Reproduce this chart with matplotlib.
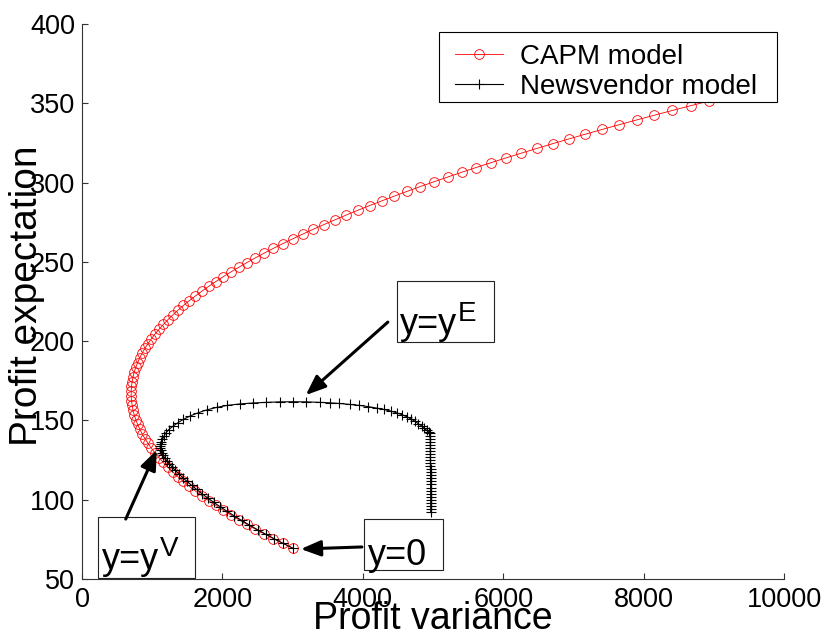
'''
Profit mean-variance frontier: CAPM vs newsvendor
'''
import matplotlib
matplotlib.use('Agg')
from matplotlib import pyplot as plt
from matplotlib.patches import Rectangle, FancyArrowPatch

plt.rcParams['font.family'] = ['Liberation Sans', 'DejaVu Sans']

## data
capm_mean = [69.5, 72.5, 75.5, 78.5, 81.5, 84.5, 87.5, 90.5, 93.5, 96.5,
             99.5, 102.5, 105.5, 108.5, 111.5, 114.5, 117.5, 120.5, 123.5, 126.5,
             129.5, 132.5, 135.5, 138.5, 141.5, 144.5, 147.5, 150.5, 153.5, 156.5,
             159.5, 162.5, 165.5, 168.5, 171.5, 174.5, 177.5, 180.5, 183.5, 186.5,
             189.5, 192.5, 195.5, 198.5, 201.5, 204.5, 207.5, 210.5, 213.5, 216.5,
             219.5, 222.5, 225.5, 228.5, 231.5, 234.5, 237.5, 240.5, 243.5, 246.5,
             249.5, 252.5, 255.5, 258.5, 261.5, 264.5, 267.5, 270.5, 273.5, 276.5,
             279.5, 282.5, 285.5, 288.5, 291.5, 294.5, 297.5, 300.5, 303.5, 306.5,
             309.5, 312.5, 315.5, 318.5, 321.5, 324.5, 327.5, 330.5, 333.5, 336.5,
             339.5, 342.5, 345.5, 348.5, 351.5]
capm_var = [3001, 2861, 2726, 2595, 2469, 2347, 2230, 2116, 2007, 1903,
            1803, 1707, 1615, 1528, 1445, 1367, 1293, 1223, 1158, 1097,
            1040, 988, 940, 897, 857, 823, 792, 766, 744, 727,
            714, 705, 701, 701, 705, 714, 727, 744, 766, 792,
            823, 857, 897, 940, 988, 1040, 1097, 1158, 1223, 1293,
            1367, 1445, 1528, 1615, 1707, 1803, 1903, 2007, 2116, 2230,
            2347, 2469, 2595, 2726, 2861, 3001, 3144, 3292, 3445, 3602,
            3763, 3928, 4098, 4272, 4451, 4634, 4821, 5013, 5209, 5409,
            5614, 5823, 6037, 6254, 6477, 6703, 6934, 7169, 7409, 7653,
            7901, 8154, 8411, 8672, 8938]

nv_var = [3000, 2869, 2742, 2619, 2500, 2385, 2275, 2168, 2065, 1970,
          1878, 1790, 1710, 1632, 1561, 1495, 1434, 1379, 1328, 1284,
          1244, 1209, 1178, 1154, 1135, 1123, 1116, 1114,
          1121, 1132, 1146, 1166, 1193, 1236, 1297, 1368, 1445, 1540,
          1653, 1775, 1916, 2070, 2250, 2437, 2628, 2818, 3007, 3198,
          3388, 3531, 3663, 3815, 3948, 4077, 4196, 4300, 4395, 4481,
          4552, 4623, 4685, 4742, 4789, 4837, 4870, 4909, 4937, 4956,
          4960, 4961, 4961, 4962, 4962, 4963, 4963, 4963, 4964, 4964,
          4964, 4965, 4965, 4965, 4965, 4966, 4966, 4966, 4966, 4967,
          4967, 4967, 4967, 4968, 4968, 4968]
nv_mean = [69.5, 72.4, 75.3, 78.2, 81.1, 84.0, 86.9, 89.8, 92.7, 95.5,
           98.3, 101.1, 103.8, 106.5, 109.1, 111.6, 114.0, 116.3, 118.5, 120.6,
           122.6, 124.5, 126.3, 128.0, 129.6, 131.1, 132.5, 133.8,
           135.2, 136.6, 138.0, 140.0, 142.0, 144.2, 146.4, 148.6, 150.7, 152.8,
           154.8, 156.6, 158.2, 159.5, 160.4, 161.0, 161.4, 161.7, 161.8, 161.7,
           161.4, 161.1, 160.7, 160.1, 159.5, 158.7, 157.8, 156.9, 155.9, 154.8,
           153.7, 152.4, 151.0, 149.5, 148.0, 146.5, 145.1, 143.8, 142.8, 141.8,
           140.0, 138.1, 136.2, 134.3, 132.4, 130.5, 128.6, 126.7, 124.8, 122.9,
           121.0, 119.1, 117.2, 115.3, 113.4, 111.5, 109.6, 107.7, 105.8, 103.9,
           102.0, 100.1, 98.2, 96.3, 94.4, 92.5]

x_ticks = [0, 2000, 4000, 6000, 8000, 10000]
y_ticks = [50, 100, 150, 200, 250, 300, 350, 400]
series_labels = ['CAPM model', 'Newsvendor model']
note_base = ['y=y', 'y=y', 'y=0']
note_sup = ['E', 'V', '']

##
fig = plt.figure(figsize=(8.27, 6.34), dpi=100)
ax = fig.add_axes([82/827, 55/634, 702/827, 555/634])

ax.plot(capm_var, capm_mean, '-o', color='red', mfc='none', ms=7,
        lw=0.6, mew=0.6, label=series_labels[0])
ax.plot(nv_var, nv_mean, '-+', color='black', ms=7, lw=0.8, mew=0.8,
        label=series_labels[1])

ax.set_xlim(0, 10000)
ax.set_ylim(50, 400)
ax.set_xticks(x_ticks)
ax.set_yticks(y_ticks)
for side in ['top', 'right']:
    ax.spines[side].set_visible(False)
for side in ['left', 'bottom']:
    ax.spines[side].set_color('#333333')
    ax.spines[side].set_linewidth(0.8)
ax.tick_params(direction='in', length=4.5, width=0.8, color='#333333',
               labelsize=19.5)
ax.tick_params(axis='x', pad=6)
ax.tick_params(axis='y', pad=5)

ax.set_xlabel('Profit variance', fontsize=27)
ax.set_ylabel('Profit expectation', fontsize=28)
ax.xaxis.set_label_coords(0.5, -0.04)
ax.yaxis.set_label_coords(-0.053, 0.51)

# legend: frameless entries inside a hand drawn box
ax.add_patch(Rectangle((0.5085, 0.8595), 0.4815, 0.1261, transform=ax.transAxes,
                       facecolor='white', edgecolor='black', lw=0.8, zorder=4))
leg = ax.legend(loc='upper left', bbox_to_anchor=(0.5313, 0.964),
                borderaxespad=0, borderpad=0, frameon=False, fontsize=20,
                handlelength=1.73, handletextpad=0.61, labelspacing=0.15)
leg.set_zorder(5)

## text boxes with arrows (data coordinates)
boxes = [(4485, 199.4, 1383, 38.5), (224, 50.6, 1383, 38.5), (4015, 55.7, 1126, 32.1)]
texts = [(4528, 204.5), (281, 56.3), (4072, 58.8)]
arrows = [((4357, 212), (3188, 166)), ((623, 87.8), (1065, 131.3)),
          ((3987, 70.2), (3117, 68.9))]
for base, sup, (bx, by, bw, bh), (tx, ty), (tail, tip) in zip(note_base, note_sup, boxes, texts, arrows):
    ax.add_patch(Rectangle((bx, by), bw, bh, fill=False, edgecolor='#222222',
                           lw=0.8, clip_on=False, zorder=5))
    ax.text(tx, ty, base, fontsize=26, ha='left', va='baseline', zorder=6)
    if sup:
        ax.annotate(sup, xy=(tx, ty), xytext=(42, 9.5), textcoords='offset points',
                    fontsize=20, ha='left', va='baseline', zorder=6)
    ax.add_patch(FancyArrowPatch(tail, tip, arrowstyle='-|>,head_length=0.4,head_width=0.16',
                                 mutation_scale=30, color='black', lw=2.2,
                                 shrinkA=0, shrinkB=0, clip_on=False, zorder=6))

fig.savefig('out.png', dpi=100)
